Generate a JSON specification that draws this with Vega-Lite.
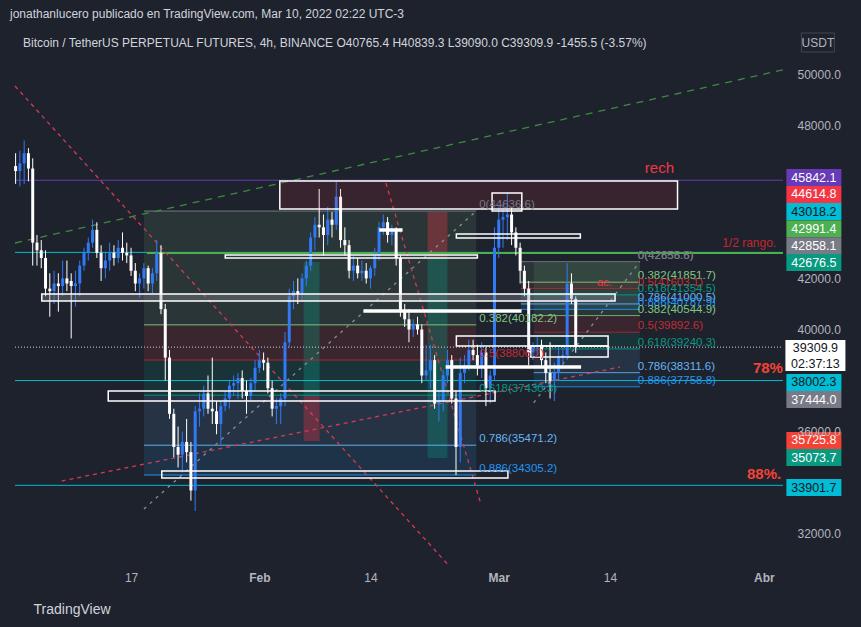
{
"$schema": "https://vega.github.io/schema/vega-lite/v6.json",
"width": 778, "height": 532,
"autosize": "none",
"padding": {"left": 10, "top": 32, "right": 73, "bottom": 63},
"background": "#1e222d",
"title": {"text": "jonathanlucero publicado en TradingView.com, Mar 10, 2022 02:22 UTC-3", "anchor": "start", "frame": "group", "offset": 11, "dy": 13, "fontSize": 12, "fontWeight": "normal", "color": "#d1d4dc", "font": "Liberation Sans", "baseline": "bottom"},
"config": {"view": {"stroke": null}, "font": "Liberation Sans"},
"datasets": {
"velas": [
{"t":"2022-01-03T12:00:00Z","o":46400,"h":46900,"l":45700,"c":46200},
{"t":"2022-01-04T00:00:00Z","o":46200,"h":47000,"l":45600,"c":46500},
{"t":"2022-01-04T12:00:00Z","o":46500,"h":47400,"l":45700,"c":46900},
{"t":"2022-01-05T00:00:00Z","o":46900,"h":47100,"l":45800,"c":46300},
{"t":"2022-01-05T12:00:00Z","o":46300,"h":46700,"l":42500,"c":43400},
{"t":"2022-01-06T00:00:00Z","o":43400,"h":43700,"l":42500,"c":43100},
{"t":"2022-01-06T12:00:00Z","o":43100,"h":43500,"l":42400,"c":42800},
{"t":"2022-01-07T00:00:00Z","o":42800,"h":43100,"l":41300,"c":41600},
{"t":"2022-01-07T12:00:00Z","o":41600,"h":42200,"l":40500,"c":41500},
{"t":"2022-01-08T00:00:00Z","o":41500,"h":42300,"l":41000,"c":41800},
{"t":"2022-01-08T12:00:00Z","o":41800,"h":42200,"l":40700,"c":41700},
{"t":"2022-01-09T00:00:00Z","o":41700,"h":42700,"l":41300,"c":42000},
{"t":"2022-01-09T12:00:00Z","o":42000,"h":42700,"l":41500,"c":41800},
{"t":"2022-01-10T00:00:00Z","o":41900,"h":42200,"l":39650,"c":41700},
{"t":"2022-01-10T12:00:00Z","o":41700,"h":42300,"l":40900,"c":41800},
{"t":"2022-01-11T00:00:00Z","o":41800,"h":42700,"l":41300,"c":42500},
{"t":"2022-01-11T12:00:00Z","o":42500,"h":43200,"l":42300,"c":43000},
{"t":"2022-01-12T00:00:00Z","o":43000,"h":43600,"l":42700,"c":43400},
{"t":"2022-01-12T12:00:00Z","o":43400,"h":44300,"l":43200,"c":43900},
{"t":"2022-01-13T00:00:00Z","o":43900,"h":44200,"l":42800,"c":43000},
{"t":"2022-01-13T12:00:00Z","o":43000,"h":43300,"l":41900,"c":42400},
{"t":"2022-01-14T00:00:00Z","o":42400,"h":43000,"l":42000,"c":42700},
{"t":"2022-01-14T12:00:00Z","o":42700,"h":43400,"l":42300,"c":43000},
{"t":"2022-01-15T00:00:00Z","o":43000,"h":43300,"l":42500,"c":42800},
{"t":"2022-01-15T12:00:00Z","o":42800,"h":43500,"l":42600,"c":43200},
{"t":"2022-01-16T00:00:00Z","o":43200,"h":43800,"l":42700,"c":43000},
{"t":"2022-01-16T12:00:00Z","o":43000,"h":43400,"l":42600,"c":42900},
{"t":"2022-01-17T00:00:00Z","o":42900,"h":43200,"l":42100,"c":42300},
{"t":"2022-01-17T12:00:00Z","o":42300,"h":42600,"l":41500,"c":41800},
{"t":"2022-01-18T00:00:00Z","o":41800,"h":42200,"l":41250,"c":42000},
{"t":"2022-01-18T12:00:00Z","o":42000,"h":42600,"l":41600,"c":42400},
{"t":"2022-01-19T00:00:00Z","o":42400,"h":42500,"l":41500,"c":41800},
{"t":"2022-01-19T12:00:00Z","o":41800,"h":42400,"l":41400,"c":42200},
{"t":"2022-01-20T00:00:00Z","o":42200,"h":43500,"l":41900,"c":43000},
{"t":"2022-01-20T12:00:00Z","o":43000,"h":43300,"l":40600,"c":40800},
{"t":"2022-01-21T00:00:00Z","o":40800,"h":41000,"l":38000,"c":38900},
{"t":"2022-01-21T12:00:00Z","o":38900,"h":39200,"l":36500,"c":36700},
{"t":"2022-01-22T00:00:00Z","o":36700,"h":36900,"l":35000,"c":35400},
{"t":"2022-01-22T12:00:00Z","o":35400,"h":36200,"l":34600,"c":35100},
{"t":"2022-01-23T00:00:00Z","o":35100,"h":36000,"l":34400,"c":35600},
{"t":"2022-01-23T12:00:00Z","o":35600,"h":36500,"l":34800,"c":35200},
{"t":"2022-01-24T00:00:00Z","o":35200,"h":35600,"l":33300,"c":33700},
{"t":"2022-01-24T12:00:00Z","o":33700,"h":37000,"l":32900,"c":36800},
{"t":"2022-01-25T00:00:00Z","o":36800,"h":37500,"l":36200,"c":36900},
{"t":"2022-01-25T12:00:00Z","o":36900,"h":37800,"l":36600,"c":37500},
{"t":"2022-01-26T00:00:00Z","o":37500,"h":38200,"l":36700,"c":36900},
{"t":"2022-01-26T12:00:00Z","o":36900,"h":38900,"l":36300,"c":36800},
{"t":"2022-01-27T00:00:00Z","o":36800,"h":37200,"l":35900,"c":36300},
{"t":"2022-01-27T12:00:00Z","o":36300,"h":37200,"l":35500,"c":37000},
{"t":"2022-01-28T00:00:00Z","o":37000,"h":37600,"l":36800,"c":37300},
{"t":"2022-01-28T12:00:00Z","o":37300,"h":38000,"l":36900,"c":37800},
{"t":"2022-01-29T00:00:00Z","o":37800,"h":38200,"l":37400,"c":37900},
{"t":"2022-01-29T12:00:00Z","o":37900,"h":38300,"l":37300,"c":38100},
{"t":"2022-01-30T00:00:00Z","o":38100,"h":38400,"l":37300,"c":37600},
{"t":"2022-01-30T12:00:00Z","o":37600,"h":38000,"l":36700,"c":37400},
{"t":"2022-01-31T00:00:00Z","o":37400,"h":38100,"l":37200,"c":37900},
{"t":"2022-01-31T12:00:00Z","o":37900,"h":38800,"l":37600,"c":38500},
{"t":"2022-02-01T00:00:00Z","o":38500,"h":39200,"l":38300,"c":38800},
{"t":"2022-02-01T12:00:00Z","o":38800,"h":39100,"l":38400,"c":38700},
{"t":"2022-02-02T00:00:00Z","o":38700,"h":38900,"l":37500,"c":37700},
{"t":"2022-02-02T12:00:00Z","o":37700,"h":38000,"l":36600,"c":36900},
{"t":"2022-02-03T00:00:00Z","o":36900,"h":37300,"l":36300,"c":37000},
{"t":"2022-02-03T12:00:00Z","o":37000,"h":37500,"l":36300,"c":37300},
{"t":"2022-02-04T00:00:00Z","o":37300,"h":39900,"l":37000,"c":39500},
{"t":"2022-02-04T12:00:00Z","o":39500,"h":41600,"l":39300,"c":41300},
{"t":"2022-02-05T00:00:00Z","o":41300,"h":41900,"l":40800,"c":41500},
{"t":"2022-02-05T12:00:00Z","o":41500,"h":42000,"l":41000,"c":41400},
{"t":"2022-02-06T00:00:00Z","o":41400,"h":42200,"l":41100,"c":42000},
{"t":"2022-02-06T12:00:00Z","o":42000,"h":42700,"l":41700,"c":42500},
{"t":"2022-02-07T00:00:00Z","o":42500,"h":43800,"l":42300,"c":43600},
{"t":"2022-02-07T12:00:00Z","o":43600,"h":44400,"l":43100,"c":44100},
{"t":"2022-02-08T00:00:00Z","o":44100,"h":45500,"l":43600,"c":44000},
{"t":"2022-02-08T12:00:00Z","o":44000,"h":44500,"l":42900,"c":43700},
{"t":"2022-02-09T00:00:00Z","o":43700,"h":44800,"l":43300,"c":44300},
{"t":"2022-02-09T12:00:00Z","o":44300,"h":44600,"l":43600,"c":44100},
{"t":"2022-02-10T00:00:00Z","o":44100,"h":45800,"l":43900,"c":45200},
{"t":"2022-02-10T12:00:00Z","o":45200,"h":45500,"l":43200,"c":43500},
{"t":"2022-02-11T00:00:00Z","o":43500,"h":44000,"l":42900,"c":43300},
{"t":"2022-02-11T12:00:00Z","o":43300,"h":43500,"l":42000,"c":42300},
{"t":"2022-02-12T00:00:00Z","o":42300,"h":42900,"l":41900,"c":42500},
{"t":"2022-02-12T12:00:00Z","o":42500,"h":42800,"l":42000,"c":42200},
{"t":"2022-02-13T00:00:00Z","o":42200,"h":42700,"l":41900,"c":42300},
{"t":"2022-02-13T12:00:00Z","o":42300,"h":42600,"l":41800,"c":42000},
{"t":"2022-02-14T00:00:00Z","o":42000,"h":42500,"l":41600,"c":42400},
{"t":"2022-02-14T12:00:00Z","o":42400,"h":43200,"l":42100,"c":42900},
{"t":"2022-02-15T00:00:00Z","o":42900,"h":44200,"l":42700,"c":44000},
{"t":"2022-02-15T12:00:00Z","o":44000,"h":44500,"l":43700,"c":44200},
{"t":"2022-02-16T00:00:00Z","o":44200,"h":44400,"l":43400,"c":43700},
{"t":"2022-02-16T12:00:00Z","o":43700,"h":44100,"l":43300,"c":43900},
{"t":"2022-02-17T00:00:00Z","o":43900,"h":44000,"l":42500,"c":42800},
{"t":"2022-02-17T12:00:00Z","o":42800,"h":42900,"l":40500,"c":40700},
{"t":"2022-02-18T00:00:00Z","o":40700,"h":41000,"l":40100,"c":40400},
{"t":"2022-02-18T12:00:00Z","o":40400,"h":40800,"l":39500,"c":40000},
{"t":"2022-02-19T00:00:00Z","o":40000,"h":40400,"l":39700,"c":40200},
{"t":"2022-02-19T12:00:00Z","o":40200,"h":40500,"l":39800,"c":40000},
{"t":"2022-02-20T00:00:00Z","o":40000,"h":40200,"l":37900,"c":38200},
{"t":"2022-02-20T12:00:00Z","o":38200,"h":39400,"l":38000,"c":38400},
{"t":"2022-02-21T00:00:00Z","o":38400,"h":39400,"l":37700,"c":38800},
{"t":"2022-02-21T12:00:00Z","o":38800,"h":39000,"l":36900,"c":37100},
{"t":"2022-02-22T00:00:00Z","o":37100,"h":37600,"l":36400,"c":37200},
{"t":"2022-02-22T12:00:00Z","o":37200,"h":38400,"l":36800,"c":38200},
{"t":"2022-02-23T00:00:00Z","o":38200,"h":39200,"l":37900,"c":38800},
{"t":"2022-02-23T12:00:00Z","o":38800,"h":39000,"l":37100,"c":37300},
{"t":"2022-02-24T00:00:00Z","o":37300,"h":37600,"l":34300,"c":35400},
{"t":"2022-02-24T12:00:00Z","o":35400,"h":38900,"l":34800,"c":38300},
{"t":"2022-02-25T00:00:00Z","o":38300,"h":39000,"l":37900,"c":38600},
{"t":"2022-02-25T12:00:00Z","o":38600,"h":39600,"l":38400,"c":39200},
{"t":"2022-02-26T00:00:00Z","o":39200,"h":39600,"l":38800,"c":39000},
{"t":"2022-02-26T12:00:00Z","o":39000,"h":39400,"l":38200,"c":38600},
{"t":"2022-02-27T00:00:00Z","o":38600,"h":39500,"l":38100,"c":39100},
{"t":"2022-02-27T12:00:00Z","o":39100,"h":39300,"l":37000,"c":37700},
{"t":"2022-02-28T00:00:00Z","o":37700,"h":38400,"l":37100,"c":38200},
{"t":"2022-02-28T12:00:00Z","o":38200,"h":44000,"l":38000,"c":43200},
{"t":"2022-03-01T00:00:00Z","o":43200,"h":44800,"l":42800,"c":44300},
{"t":"2022-03-01T12:00:00Z","o":44300,"h":44900,"l":43200,"c":44400},
{"t":"2022-03-02T00:00:00Z","o":44400,"h":45350,"l":43500,"c":44500},
{"t":"2022-03-02T12:00:00Z","o":44500,"h":44800,"l":43300,"c":43800},
{"t":"2022-03-03T00:00:00Z","o":43800,"h":44000,"l":42900,"c":43200},
{"t":"2022-03-03T12:00:00Z","o":43200,"h":43400,"l":41800,"c":42300},
{"t":"2022-03-04T00:00:00Z","o":42300,"h":42500,"l":41300,"c":41600},
{"t":"2022-03-04T12:00:00Z","o":41600,"h":41900,"l":38600,"c":39100},
{"t":"2022-03-05T00:00:00Z","o":39100,"h":39500,"l":38800,"c":39300},
{"t":"2022-03-05T12:00:00Z","o":39300,"h":39700,"l":39000,"c":39400},
{"t":"2022-03-06T00:00:00Z","o":39400,"h":39600,"l":38500,"c":38800},
{"t":"2022-03-06T12:00:00Z","o":38800,"h":39100,"l":37900,"c":38300},
{"t":"2022-03-07T00:00:00Z","o":38300,"h":39500,"l":37300,"c":38000},
{"t":"2022-03-07T12:00:00Z","o":38000,"h":38700,"l":37200,"c":38300},
{"t":"2022-03-08T00:00:00Z","o":38300,"h":39300,"l":38000,"c":38900},
{"t":"2022-03-08T12:00:00Z","o":38900,"h":39400,"l":38600,"c":39000},
{"t":"2022-03-09T00:00:00Z","o":39000,"h":42600,"l":38800,"c":41800},
{"t":"2022-03-09T12:00:00Z","o":41800,"h":42200,"l":41000,"c":41200},
{"t":"2022-03-10T00:00:00Z","o":41200,"h":41300,"l":39090,"c":39309.9}
],
"niveles": [
{"t":"2022-01-03T10:18:00Z","t2":"2022-04-03T05:45:00Z","p":45842.1,"k":"morado"},
{"t":"2022-01-03T10:18:00Z","t2":"2022-04-03T05:45:00Z","p":43018.2,"k":"cian"},
{"t":"2022-01-18T20:32:00Z","t2":"2022-04-03T05:45:00Z","p":42991.4,"k":"verde"},
{"t":"2022-01-03T10:18:00Z","t2":"2022-04-03T05:45:00Z","p":38002.3,"k":"cian"},
{"t":"2022-01-03T10:18:00Z","t2":"2022-04-03T05:45:00Z","p":33901.7,"k":"cian"},
{"t":"2022-01-03T10:18:00Z","t2":"2022-04-03T05:45:00Z","p":39309.9,"k":"precio"},
{"t":"2022-01-18T12:11:00Z","t2":"2022-02-26T08:41:00Z","p":44636.6,"k":"gris"},
{"t":"2022-01-18T12:11:00Z","t2":"2022-02-26T08:41:00Z","p":40182.2,"k":"f382"},
{"t":"2022-01-18T12:11:00Z","t2":"2022-02-26T08:41:00Z","p":38806.2,"k":"f5"},
{"t":"2022-01-18T12:11:00Z","t2":"2022-02-26T08:41:00Z","p":37430.3,"k":"f618"},
{"t":"2022-01-18T12:11:00Z","t2":"2022-02-26T08:41:00Z","p":35471.2,"k":"f786"},
{"t":"2022-01-18T12:11:00Z","t2":"2022-02-26T08:41:00Z","p":34305.2,"k":"f886"},
{"t":"2022-03-03T13:57:00Z","t2":"2022-03-17T11:58:00Z","p":42656.6,"k":"gris"},
{"t":"2022-03-03T13:57:00Z","t2":"2022-03-17T11:58:00Z","p":41851.7,"k":"f382"},
{"t":"2022-03-03T13:57:00Z","t2":"2022-03-17T11:58:00Z","p":41603.1,"k":"f5"},
{"t":"2022-03-03T13:57:00Z","t2":"2022-03-17T11:58:00Z","p":41354.5,"k":"f618"},
{"t":"2022-03-03T13:57:00Z","t2":"2022-03-17T11:58:00Z","p":41000.5,"k":"f786"},
{"t":"2022-03-03T13:57:00Z","t2":"2022-03-17T11:58:00Z","p":40787.9,"k":"f886"},
{"t":"2022-03-05T02:08:00Z","t2":"2022-03-17T11:58:00Z","p":40544.9,"k":"f382"},
{"t":"2022-03-05T02:08:00Z","t2":"2022-03-17T11:58:00Z","p":39892.6,"k":"f5"},
{"t":"2022-03-05T02:08:00Z","t2":"2022-03-17T11:58:00Z","p":39240.3,"k":"f618"},
{"t":"2022-03-05T02:08:00Z","t2":"2022-03-17T11:58:00Z","p":38311.6,"k":"f786"},
{"t":"2022-03-05T02:08:00Z","t2":"2022-03-17T11:58:00Z","p":37758.8,"k":"f886"}
],
"zonas": [
{"t":"2022-01-18T12:11:00Z","t2":"2022-02-26T08:41:00Z","p":44636.6,"p2":40182.2,"k":"b382"},
{"t":"2022-01-18T12:11:00Z","t2":"2022-02-26T08:41:00Z","p":40182.2,"p2":38806.2,"k":"b5"},
{"t":"2022-01-18T12:11:00Z","t2":"2022-02-26T08:41:00Z","p":38806.2,"p2":37430.3,"k":"b618"},
{"t":"2022-01-18T12:11:00Z","t2":"2022-02-26T08:41:00Z","p":37430.3,"p2":35471.2,"k":"b786"},
{"t":"2022-01-18T12:11:00Z","t2":"2022-02-26T08:41:00Z","p":35471.2,"p2":34305.2,"k":"b886"},
{"t":"2022-03-03T13:57:00Z","t2":"2022-03-17T11:58:00Z","p":42656.6,"p2":41851.7,"k":"b382"},
{"t":"2022-03-03T13:57:00Z","t2":"2022-03-17T11:58:00Z","p":41851.7,"p2":41603.1,"k":"b5"},
{"t":"2022-03-03T13:57:00Z","t2":"2022-03-17T11:58:00Z","p":41603.1,"p2":41354.5,"k":"b618"},
{"t":"2022-03-03T13:57:00Z","t2":"2022-03-17T11:58:00Z","p":41354.5,"p2":41000.5,"k":"b786"},
{"t":"2022-03-03T13:57:00Z","t2":"2022-03-17T11:58:00Z","p":41000.5,"p2":40787.9,"k":"b886"},
{"t":"2022-03-05T02:08:00Z","t2":"2022-03-17T11:58:00Z","p":42656.6,"p2":40544.9,"k":"b382"},
{"t":"2022-03-05T02:08:00Z","t2":"2022-03-17T11:58:00Z","p":40544.9,"p2":39892.6,"k":"b5"},
{"t":"2022-03-05T02:08:00Z","t2":"2022-03-17T11:58:00Z","p":39892.6,"p2":39240.3,"k":"b618"},
{"t":"2022-03-05T02:08:00Z","t2":"2022-03-17T11:58:00Z","p":39240.3,"p2":38311.6,"k":"b786"},
{"t":"2022-03-05T02:08:00Z","t2":"2022-03-17T11:58:00Z","p":38311.6,"p2":37758.8,"k":"b886"},
{"t":"2022-02-06T04:20:00Z","t2":"2022-02-08T00:53:00Z","p":42642,"p2":37397,"k":"largo"},
{"t":"2022-02-06T04:20:00Z","t2":"2022-02-08T00:53:00Z","p":37397,"p2":35636,"k":"corto"},
{"t":"2022-02-20T16:18:00Z","t2":"2022-02-22T23:59:00Z","p":44599,"p2":42838,"k":"corto"},
{"t":"2022-02-20T16:18:00Z","t2":"2022-02-22T23:59:00Z","p":42838,"p2":34971,"k":"largo"}
],
"cajas": [
{"t":"2022-02-03T09:32:00Z","t2":"2022-03-21T21:45:00Z","p":45812,"p2":44716,"k":"rech"},
{"t":"2022-02-28T05:14:00Z","t2":"2022-03-03T16:44:00Z","p":45342,"p2":44638,"k":"vacia"},
{"t":"2022-02-24T01:00:00Z","t2":"2022-03-10T12:58:00Z","p":43738,"p2":43581,"k":"vacia"},
{"t":"2022-02-15T02:41:00Z","t2":"2022-02-17T15:55:00Z","p":43933,"p2":43855,"k":"blanca"},
{"t":"2022-01-28T00:26:00Z","t2":"2022-02-26T12:00:00Z","p":42916,"p2":42798,"k":"vacia"},
{"t":"2022-01-06T13:30:00Z","t2":"2022-03-14T14:22:00Z","p":41389,"p2":41115,"k":"gris_caja"},
{"t":"2022-02-13T06:09:00Z","t2":"2022-03-03T13:57:00Z","p":40763,"p2":40685,"k":"blanca"},
{"t":"2022-02-24T01:00:00Z","t2":"2022-03-13T18:53:00Z","p":39746,"p2":39354,"k":"vacia"},
{"t":"2022-03-04T17:47:00Z","t2":"2022-03-13T18:53:00Z","p":39354,"p2":38924,"k":"vacia"},
{"t":"2022-02-22T21:00:00Z","t2":"2022-03-10T12:58:00Z","p":38571,"p2":38493,"k":"blanca"},
{"t":"2022-01-14T07:58:00Z","t2":"2022-02-28T13:35:00Z","p":37593,"p2":37202,"k":"vacia"},
{"t":"2022-01-20T14:17:00Z","t2":"2022-03-02T01:45:00Z","p":34462,"p2":34188,"k":"vacia"}
],
"tendencias": [
{"id":"a","k":"dverde","t":"2022-01-03T10:18:00Z","p":43386},
{"id":"a","k":"dverde","t":"2022-04-03T05:45:00Z","p":50164},
{"id":"b","k":"drojo","t":"2022-01-03T10:18:00Z","p":49530},
{"id":"b","k":"drojo","t":"2022-02-23T00:00:00Z","p":30822},
{"id":"c","k":"drojo","t":"2022-02-15T19:24:00Z","p":45734},
{"id":"c","k":"drojo","t":"2022-02-26T22:36:00Z","p":33131},
{"id":"d","k":"drojo","t":"2022-01-08T21:09:00Z","p":34070},
{"id":"d","k":"drojo","t":"2022-03-15T04:18:00Z","p":38532},
{"id":"e","k":"dgris","t":"2022-01-18T12:11:00Z","p":32975.9},
{"id":"e","k":"dgris","t":"2022-02-26T08:41:00Z","p":44636.6},
{"id":"f","k":"dgris","t":"2022-03-05T02:08:00Z","p":37128.6},
{"id":"f","k":"dgris","t":"2022-03-17T11:58:00Z","p":42656.6}
],
"etiquetas": [
{"t":"2022-02-26T17:02:00Z","p":44636.6,"s":"0(44636.6)","k":"gris"},
{"t":"2022-02-26T17:02:00Z","p":40182.2,"s":"0.382(40182.2)","k":"f382"},
{"t":"2022-02-26T17:02:00Z","p":38806.2,"s":"0.5(38806.2)","k":"f5"},
{"t":"2022-02-26T17:02:00Z","p":37430.3,"s":"0.618(37430.3)","k":"f618"},
{"t":"2022-02-26T17:02:00Z","p":35471.2,"s":"0.786(35471.2)","k":"f786"},
{"t":"2022-02-26T17:02:00Z","p":34305.2,"s":"0.886(34305.2)","k":"f886"},
{"t":"2022-03-17T06:25:00Z","p":42656.6,"s":"0(42656.6)","k":"gris"},
{"t":"2022-03-17T06:25:00Z","p":42656.6,"s":"0(42855.5)","k":"gris"},
{"t":"2022-03-17T06:25:00Z","p":41851.7,"s":"0.382(41851.7)","k":"f382"},
{"t":"2022-03-17T06:25:00Z","p":41603.1,"s":"0.5(41603.1)","k":"f5"},
{"t":"2022-03-17T06:25:00Z","p":41354.5,"s":"0.618(41354.5)","k":"f618"},
{"t":"2022-03-17T06:25:00Z","p":41000.5,"s":"0.786(41000.5)","k":"f786"},
{"t":"2022-03-17T06:25:00Z","p":40787.9,"s":"0.886(40787.9)","k":"f886"},
{"t":"2022-03-17T06:25:00Z","p":40544.9,"s":"0.382(40544.9)","k":"f382"},
{"t":"2022-03-17T06:25:00Z","p":39892.6,"s":"0.5(39892.6)","k":"f5"},
{"t":"2022-03-17T06:25:00Z","p":39240.3,"s":"0.618(39240.3)","k":"f618"},
{"t":"2022-03-17T06:25:00Z","p":38311.6,"s":"0.786(38311.6)","k":"f786"},
{"t":"2022-03-17T06:25:00Z","p":37758.8,"s":"0.886(37758.8)","k":"f886"}
],
"notas": [
{"t":"2022-03-18T01:53:00Z","p":46008,"s":"rech","k":"rojo"},
{"t":"2022-03-27T03:00:00Z","p":43112,"s":"1/2 rango.","k":"rojo_osc"},
{"t":"2022-03-12T12:17:00Z","p":41624,"s":"ac.","k":"rojo"},
{"t":"2022-03-30T17:18:00Z","p":38180,"s":"78%","k":"pct"},
{"t":"2022-03-30T00:36:00Z","p":34031,"s":"88%.","k":"pct"}
],
"marcas": [
{"t":"2022-04-06T20:24:00Z","p":45949,"s":"45842.1","k":"tmorado"},
{"t":"2022-04-06T20:24:00Z","p":45284,"s":"44614.8","k":"trojo"},
{"t":"2022-04-06T20:24:00Z","p":44618,"s":"43018.2","k":"tcian"},
{"t":"2022-04-06T20:24:00Z","p":43945,"s":"42991.4","k":"tverde"},
{"t":"2022-04-06T20:24:00Z","p":43280,"s":"42858.1","k":"tgris"},
{"t":"2022-04-06T20:24:00Z","p":42622,"s":"42676.5","k":"tteal"},
{"t":"2022-04-06T20:24:00Z","p":37926,"s":"38002.3","k":"tcian"},
{"t":"2022-04-06T20:24:00Z","p":37260,"s":"37444.0","k":"tgris"},
{"t":"2022-04-06T20:24:00Z","p":35656,"s":"35725.8","k":"tnaranja"},
{"t":"2022-04-06T20:24:00Z","p":34990,"s":"35073.7","k":"tteal"},
{"t":"2022-04-06T20:24:00Z","p":33816,"s":"33901.7","k":"tcian"}
],
"cabecera": [
{"t":"2022-01-04T08:38:00Z","p":51225,"s":"Bitcoin / TetherUS PERPETUAL FUTURES, 4h, BINANCE  O40765.4  H40839.3  L39090.0  C39309.9  -1455.5 (-3.57%)"}
],
"moneda": [
{"t":"2022-04-07T07:40:00Z","p":51233,"s":"USDT"}
]
},
"encoding": {
"x": {"field": "t", "type": "temporal",
 "scale": {"type": "utc", "nice": false, "domain": [{"year":2022,"month":1,"date":3,"hours":10,"minutes":18,"utc":true},{"year":2022,"month":4,"date":3,"hours":5,"minutes":45,"utc":true}]},
 "axis": {"title": "TradingView", "titleX": 23, "titleY": 45, "titleAlign": "left", "titleBaseline": "middle", "titleColor": "#d1d4dc", "titleFontSize": 14, "titleFontWeight": "normal", "titleFont": "Liberation Sans",
  "values": [{"year":2022,"month":1,"date":17,"utc":true},{"year":2022,"month":2,"date":1,"utc":true},{"year":2022,"month":2,"date":14,"utc":true},{"year":2022,"month":3,"date":1,"utc":true},{"year":2022,"month":3,"date":14,"utc":true},{"year":2022,"month":4,"date":1,"utc":true}],
  "labelExpr": "utcdate(datum.value) == 1 ? ['Ene','Feb','Mar','Abr'][utcmonth(datum.value)] : utcFormat(datum.value, '%d')",
  "labelFontWeight": {"condition": {"test": "utcdate(datum.value) == 1", "value": "bold"}, "value": "normal"},
  "labelColor": "#b2b5be", "labelFontSize": 12, "labelFont": "Liberation Sans", "labelPadding": 8, "labelOverlap": false, "labelFlush": false,
  "ticks": false, "domain": false, "grid": false, "zindex": 1}},
"y": {"field": "p", "type": "quantitative",
 "scale": {"domain": [30822, 51644], "zero": false, "nice": false},
 "axis": {"title": null, "orient": "right", "values": [32000,34000,36000,38000,40000,42000,44000,46000,48000,50000],
  "labelExpr": "indexof([34000,38000,44000,46000], datum.value) >= 0 ? '' : format(datum.value, '.1f')",
  "labelColor": "#b2b5be", "labelFontSize": 12, "labelFont": "Liberation Sans", "labelPadding": 9, "labelAlign": "left", "labelOverlap": false, "labelFlush": false,
  "ticks": false, "domain": false, "grid": false, "zindex": 1}}
},
"layer": [
{"data": {"values": [{}]}, "mark": {"type": "rect", "fill": "#131722", "stroke": "#2a2e39", "strokeWidth": 1},
 "encoding": {"x": {"datum": {"year":2022,"month":1,"date":3,"hours":10,"minutes":18,"utc":true}, "type": "temporal"}, "x2": {"datum": {"year":2022,"month":4,"date":10,"hours":23,"minutes":17,"utc":true}}, "y": {"datum": 51644, "type": "quantitative"}, "y2": {"datum": 29765}}},
{"data": {"values": [{"p":32000},{"p":34000},{"p":36000},{"p":38000},{"p":40000},{"p":42000},{"p":44000},{"p":46000},{"p":48000},{"p":50000}]},
 "mark": {"type": "rule", "color": "#20242f", "strokeWidth": 1},
 "encoding": {"x": {"datum": {"year":2022,"month":1,"date":3,"hours":10,"minutes":18,"utc":true}, "type": "temporal"}, "x2": {"datum": {"year":2022,"month":4,"date":3,"hours":5,"minutes":45,"utc":true}}}},
{"data": {"values": [{"t":"2022-01-17T00:00:00Z"},{"t":"2022-02-01T00:00:00Z"},{"t":"2022-02-14T00:00:00Z"},{"t":"2022-03-01T00:00:00Z"},{"t":"2022-03-14T00:00:00Z"},{"t":"2022-04-01T00:00:00Z"}]},
 "mark": {"type": "rule", "color": "#20242f", "strokeWidth": 1},
 "encoding": {"y": {"datum": 51644, "type": "quantitative"}, "y2": {"datum": 30822}}},
{"data": {"name": "zonas"}, "mark": {"type": "rect"},
 "encoding": {"x2": {"field": "t2"}, "y2": {"field": "p2"},
  "fill": {"field": "k", "type": "nominal", "legend": null, "scale": {"domain": ["b382","b5","b618","b786","b886","largo","corto"], "range": ["rgba(129,199,132,0.12)","rgba(244,67,54,0.13)","rgba(8,153,129,0.14)","rgba(100,181,246,0.12)","rgba(33,150,243,0.14)","rgba(8,153,129,0.32)","rgba(242,54,69,0.32)"]}}}},
{"data": {"name": "niveles"}, "mark": {"type": "rule"},
 "encoding": {"x2": {"field": "t2"},
  "color": {"field": "k", "type": "nominal", "legend": null, "scale": {"domain": ["morado","cian","verde","precio","gris","f382","f5","f618","f786","f886"], "range": ["#673ab7","#00bcd4","#4caf50","#d1d4dc","#787b86","#81c784","#b22833","#089981","#64b5f6","#2196f3"]}},
  "strokeDash": {"condition": {"test": "datum.k == 'precio'", "value": [1, 2]}, "value": [1, 0]},
  "strokeWidth": {"condition": {"test": "datum.k == 'verde'", "value": 2}, "value": 1}}},
{"data": {"name": "tendencias"}, "mark": {"type": "line", "strokeWidth": 1.3},
 "encoding": {"detail": {"field": "id"},
  "color": {"field": "k", "type": "nominal", "legend": null, "scale": {"domain": ["dverde","drojo","dgris"], "range": ["#3d8b40","#d63a50","#8a8d96"]}},
  "strokeDash": {"field": "k", "type": "nominal", "legend": null, "scale": {"domain": ["dverde","drojo","dgris"], "range": [[7,6],[4,4],[3,5]]}}}},
{"data": {"name": "velas"}, "mark": {"type": "rule", "strokeWidth": 1, "clip": true},
 "encoding": {"y": {"field": "l", "type": "quantitative"}, "y2": {"field": "h"},
  "color": {"condition": {"test": "datum.c >= datum.o", "value": "#3179f5"}, "value": "#ffffff"}}},
{"data": {"name": "velas"}, "mark": {"type": "bar", "size": 3, "clip": true},
 "encoding": {"y": {"field": "o", "type": "quantitative"}, "y2": {"field": "c"},
  "color": {"condition": {"test": "datum.c >= datum.o", "value": "#3179f5"}, "value": "#ffffff"}}},
{"data": {"name": "cajas"}, "mark": {"type": "rect", "stroke": "#ffffff", "strokeWidth": 1.5},
 "encoding": {"x2": {"field": "t2"}, "y2": {"field": "p2"},
  "fill": {"field": "k", "type": "nominal", "legend": null, "scale": {"domain": ["rech","vacia","blanca","gris_caja"], "range": ["rgba(242,54,69,0.12)","rgba(0,0,0,0)","#ffffff","rgba(140,143,154,0.35)"]}}}},
{"data": {"name": "etiquetas"}, "mark": {"type": "text", "align": "left", "baseline": "bottom", "dy": -1, "fontSize": 11.5, "font": "Liberation Sans"},
 "encoding": {"text": {"field": "s"},
  "color": {"field": "k", "type": "nominal", "legend": null, "scale": {"domain": ["gris","f382","f5","f618","f786","f886"], "range": ["#787b86","#81c784","#c62a31","#089981","#64b5f6","#2196f3"]}}}},
{"data": {"name": "notas"}, "transform": [{"filter": "datum.k != 'pct'"}],
 "mark": {"type": "text", "align": "left", "baseline": "bottom", "font": "Liberation Sans"},
 "encoding": {"text": {"field": "s"},
  "size": {"condition": [{"test": "datum.s == 'rech'", "value": 15}, {"test": "datum.s == 'ac.'", "value": 11}], "value": 12},
  "color": {"field": "k", "type": "nominal", "legend": null, "scale": {"domain": ["rojo","rojo_osc"], "range": ["#f23645","#c2262e"]}}}},
{"data": {"name": "notas"}, "transform": [{"filter": "datum.k == 'pct'"}],
 "mark": {"type": "text", "align": "left", "baseline": "bottom", "font": "Liberation Sans", "fontSize": 15, "fontWeight": "bold", "color": "#f44336"},
 "encoding": {"text": {"field": "s"}}},
{"data": {"name": "cabecera"}, "mark": {"type": "text", "align": "left", "baseline": "middle", "fontSize": 12, "font": "Liberation Sans", "color": "#d1d4dc"},
 "encoding": {"text": {"field": "s"}}},
{"data": {"values": [{}]}, "mark": {"type": "rule", "color": "#2a2e39", "strokeWidth": 1},
 "encoding": {"x": {"datum": {"year":2022,"month":4,"date":3,"hours":5,"minutes":45,"utc":true}, "type": "temporal"}, "y": {"datum": 51644, "type": "quantitative"}, "y2": {"datum": 29765}}},
{"data": {"values": [{}]}, "mark": {"type": "rule", "color": "#2a2e39", "strokeWidth": 1},
 "encoding": {"x": {"datum": {"year":2022,"month":1,"date":3,"hours":10,"minutes":18,"utc":true}, "type": "temporal"}, "x2": {"datum": {"year":2022,"month":4,"date":10,"hours":23,"minutes":17,"utc":true}}, "y": {"datum": 30822, "type": "quantitative"}}},
{"data": {"name": "marcas"}, "mark": {"type": "point", "filled": true, "opacity": 1, "strokeWidth": 0, "size": 3025, "shape": "M-1,-0.309L1,-0.309L1,0.309L-1,0.309Z"},
 "encoding": {"fill": {"field": "k", "type": "nominal", "legend": null, "scale": {"domain": ["tmorado","trojo","tcian","tverde","tgris","tteal","tnaranja"], "range": ["#673ab7","#f23645","#00bcd4","#4caf50","#787b86","#089981","#f44336"]}}}},
{"data": {"name": "marcas"}, "mark": {"type": "text", "align": "center", "baseline": "middle", "fontSize": 12.5, "font": "Liberation Sans"},
 "encoding": {"text": {"field": "s"}, "color": {"condition": {"test": "datum.k == 'tcian'", "value": "#131722"}, "value": "#ffffff"}}},
{"data": {"values": [{"t": "2022-04-07T00:43:00Z", "p": 38982, "s": "39309.9\n02:37:13"}]},
 "mark": {"type": "point", "filled": true, "opacity": 1, "strokeWidth": 0, "size": 3600, "color": "#ffffff", "shape": "M-1,-0.517L1,-0.517L1,0.517L-1,0.517Z"}},
{"data": {"values": [{"t": "2022-04-07T00:43:00Z", "p": 38982, "s": "39309.9\n02:37:13"}]},
 "mark": {"type": "text", "align": "center", "baseline": "middle", "dy": -8, "fontSize": 12.5, "lineHeight": 16, "lineBreak": "\n", "font": "Liberation Sans", "color": "#131722"},
 "encoding": {"text": {"field": "s"}}},
{"data": {"name": "moneda"}, "mark": {"type": "point", "filled": false, "opacity": 1, "stroke": "#434651", "strokeWidth": 1, "size": 1089, "shape": "M-1,-0.576L1,-0.576L1,0.576L-1,0.576Z"}},
{"data": {"name": "moneda"}, "mark": {"type": "text", "align": "center", "baseline": "middle", "fontSize": 12, "font": "Liberation Sans", "color": "#b2b5be"},
 "encoding": {"text": {"field": "s"}}}
],
"resolve": {"scale": {"color": "independent", "fill": "independent", "strokeDash": "independent", "size": "independent"}}
}
